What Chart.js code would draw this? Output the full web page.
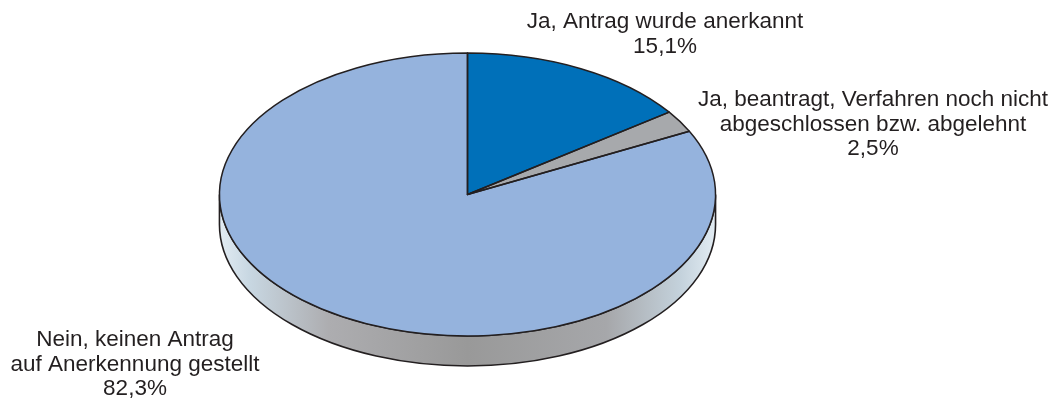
<!DOCTYPE html>
<html>
<head>
<meta charset="utf-8">
<script src="https://cdn.jsdelivr.net/npm/chart.js@4"></script>
<style>
  html, body { margin: 0; padding: 0; background: #fff; }
  #wrap { width: 1058px; height: 400px; position: relative; }
</style>
</head>
<body>
<div id="wrap"><canvas id="pieChart"></canvas></div>
<script>
const categories = [
  ["Ja, Antrag wurde anerkannt"],
  ["Ja, beantragt, Verfahren noch nicht", "abgeschlossen bzw. abgelehnt"],
  ["Nein, keinen Antrag", "auf Anerkennung gestellt"]
];
const shares = [15.1, 2.5, 82.3];
const sliceColors = ["#0070b9", "#a7a9ac", "#95b3dd"];

// centre x / first line y of each label block
const labelPos = [[665, 22], [873, 100], [135, 340]];

const stretchX = 1.753;   // ellipse width / height
const depth = 30;         // thickness of the disc
const edgeColor = "#231f20";

function fmtShare(v) {
  return v.toFixed(1).replace('.', ',') + '%';
}

function traceSlice(ctx, arc) {
  ctx.beginPath();
  ctx.moveTo(arc.x, arc.y);
  ctx.ellipse(arc.x, arc.y, arc.outerRadius * stretchX, arc.outerRadius, 0, arc.startAngle, arc.endAngle);
  ctx.closePath();
}

const pie3d = {
  id: 'pie3d',
  beforeDatasetsDraw(chart) {
    const ctx = chart.ctx;
    const arcs = chart.getDatasetMeta(0).data;
    const { x, y, outerRadius } = arcs[0];
    const rx = outerRadius * stretchX, ry = outerRadius;

    // side wall, only the front half is visible
    const grad = ctx.createLinearGradient(x - rx, 0, x + rx, 0);
    grad.addColorStop(0, '#e2ecf3');
    grad.addColorStop(0.06, '#c8d7e2');
    grad.addColorStop(0.22, '#adadb0');
    grad.addColorStop(0.5, '#999999');
    grad.addColorStop(0.78, '#a6a7aa');
    grad.addColorStop(0.93, '#c4d2dc');
    grad.addColorStop(1, '#e2ecf3');

    ctx.save();
    ctx.beginPath();
    ctx.ellipse(x, y, rx, ry, 0, 0, Math.PI);
    ctx.lineTo(x - rx, y + depth);
    ctx.ellipse(x, y + depth, rx, ry, 0, Math.PI, 0, true);
    ctx.closePath();
    ctx.fillStyle = grad;
    ctx.fill();
    ctx.lineWidth = 1.6;
    ctx.strokeStyle = edgeColor;
    ctx.stroke();
    ctx.restore();

    // squash the circle into an ellipse while the slices are drawn
    ctx.save();
    ctx.translate(x, y);
    ctx.scale(stretchX, 1);
    ctx.translate(-x, -y);
  },
  afterDatasetsDraw(chart) {
    const ctx = chart.ctx;
    ctx.restore();
    ctx.save();
    ctx.lineWidth = 1.5;
    ctx.strokeStyle = edgeColor;
    ctx.lineJoin = 'round';
    chart.getDatasetMeta(0).data.forEach(arc => {
      traceSlice(ctx, arc);
      ctx.stroke();
    });
    ctx.restore();
  },
  afterDraw(chart) {
    const ctx = chart.ctx;
    ctx.save();
    ctx.font = '22.5px "Liberation Sans", Arial, sans-serif';
    ctx.fillStyle = edgeColor;
    ctx.textAlign = 'center';
    ctx.textBaseline = 'middle';
    categories.forEach((lines, i) => {
      const all = lines.concat(fmtShare(shares[i]));
      const [cx, cy] = labelPos[i];
      all.forEach((t, j) => ctx.fillText(t, cx, cy + j * 24.5));
    });
    ctx.restore();
  }
};

new Chart(document.getElementById('pieChart'), {
  type: 'pie',
  data: {
    labels: categories.map(c => c.join(' ')),
    datasets: [{
      data: shares,
      backgroundColor: sliceColors,
      borderWidth: 0
    }]
  },
  options: {
    responsive: true,
    maintainAspectRatio: false,
    animation: false,
    layout: {
      padding: { top: 53, bottom: 64, left: 326, right: 449 }
    },
    plugins: {
      legend: { display: false },
      tooltip: { enabled: false }
    }
  },
  plugins: [pie3d]
});
</script>
</body>
</html>
